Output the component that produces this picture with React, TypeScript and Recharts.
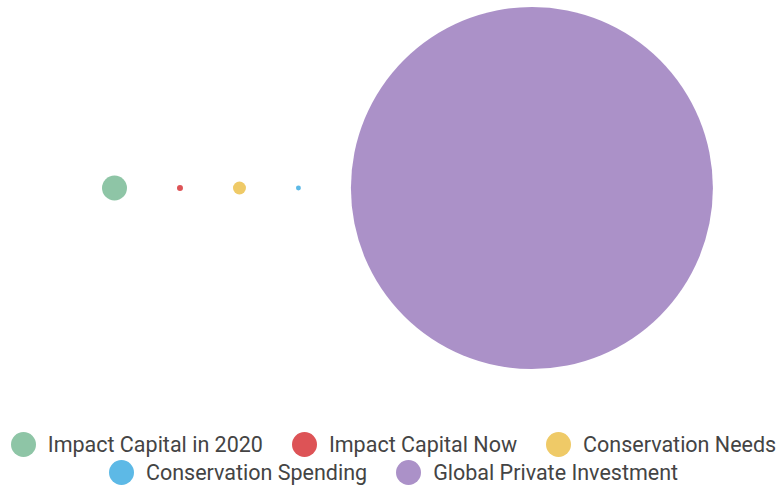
import { ScatterChart, Scatter, XAxis, YAxis, ZAxis, Legend } from 'recharts';

const names = ['Impact Capital in 2020', 'Impact Capital Now', 'Conservation Needs', 'Conservation Spending', 'Global Private Investment'];
const values = [715, 41, 193, 28, 150000];
const colors = ['#8ec5a6', '#dd5356', '#efca67', '#5db9e6', '#ab91c8'];

const W = 777;
const H = 485;
const maxR = 181;
const maxArea = Math.PI * maxR * maxR;
const maxVal = Math.max(...values);
const gap = 50;
const startX = 102;

// lay the bubbles out side by side, radius follows the z scale (area ~ value)
let edge = startX;
const series = values.map((v, i) => {
  const r = maxR * Math.sqrt(v / maxVal);
  const x = edge + r;
  edge = x + r + gap;
  return { name: names[i], color: colors[i], data: [{ x, y: 0.5, z: v }] };
});

function LegendContent() {
  return (
    <div style={{ height: 109, boxSizing: 'border-box', display: 'flex', flexWrap: 'wrap', justifyContent: 'center', alignContent: 'flex-start', columnGap: 29, padding: '54px 0 0 10px', fontFamily: 'Roboto', fontSize: 21.5, color: '#444' }}>
      {series.map((s) => (
        <div key={s.name} style={{ display: 'flex', alignItems: 'center', height: 28, whiteSpace: 'nowrap' }}>
          <span style={{ width: 25, height: 25, borderRadius: '50%', background: s.color, marginRight: 12, display: 'inline-block' }} />
          <span>{s.name}</span>
        </div>
      ))}
    </div>
  );
}

export default function App() {
  return (
    <div>
      <style>{'body{margin:0}'}</style>
      <ScatterChart width={W} height={H} margin={{ top: 0, right: 0, bottom: 0, left: 0 }}>
        <XAxis type="number" dataKey="x" domain={[0, W]} hide />
        <YAxis type="number" dataKey="y" domain={[0, 1]} hide />
        <ZAxis type="number" dataKey="z" domain={[0, maxVal]} range={[0, maxArea]} />
        <Legend verticalAlign="bottom" content={<LegendContent />} />
        {series.map((s) => (
          <Scatter key={s.name} name={s.name} data={s.data} fill={s.color} shape="circle" isAnimationActive={false} />
        ))}
      </ScatterChart>
    </div>
  );
}
